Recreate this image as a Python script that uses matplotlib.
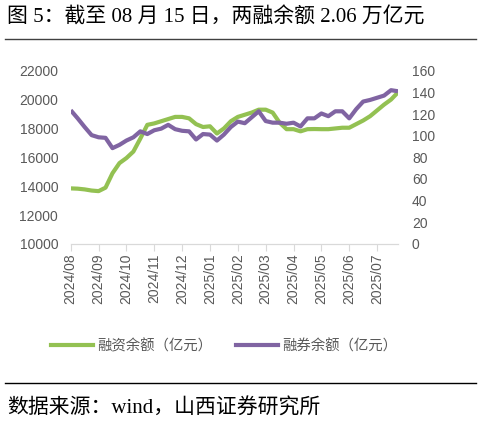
import matplotlib
matplotlib.use('Agg')
import matplotlib.pyplot as plt
from matplotlib.lines import Line2D
import numpy as np

# tick labels for the category axis (one label every 4 points)
month_labels = ['2024/08', '2024/09', '2024/10', '2024/11', '2024/12', '2025/01',
                '2025/02', '2025/03', '2025/04', '2025/05', '2025/06', '2025/07']

# margin financing balance (left axis, 亿元)
financing = [13850, 13830, 13780, 13700, 13660, 13900, 14900, 15600, 15950, 16400,
             17300, 18250, 18350, 18500, 18650, 18800, 18800, 18700, 18300, 18100,
             18150, 17650, 18000, 18500, 18800, 18950, 19100, 19300, 19300, 19100,
             18400, 17950, 17950, 17800, 17950, 17960, 17950, 17950, 18000, 18050,
             18050, 18300, 18550, 18850, 19250, 19650, 20000, 20500]

# securities lending balance (right axis, 亿元)
lending = [123.5, 116, 108, 100.5, 98.5, 98, 88.5, 91.5, 95.5, 98.5,
           104, 101.5, 105, 106.5, 110, 106, 104.5, 104, 96.5, 101.5,
           101, 95.5, 101, 108, 113, 111.5, 117, 122.5, 113.5, 112,
           112, 111, 112, 108.5, 116, 116, 120.5, 118, 122.5, 122.5,
           116, 124.5, 131.5, 133, 135, 137, 142, 141]

green = '#93c152'
purple = '#8064a2'
gray = '#595959'
cn_font = ['Liberation Serif', 'Noto Sans CJK SC']
sans_font = ['Liberation Sans', 'Noto Sans CJK SC']

fig = plt.figure(figsize=(4.82, 4.23), dpi=100)
ax = fig.add_axes([0.1467, 0.4232, 0.679, 0.4097])
ax2 = ax.twinx()

x = np.arange(len(financing))
ax.plot(x, financing, color=green, linewidth=3, solid_capstyle='butt')
ax2.plot(x, lending, color=purple, linewidth=3, solid_capstyle='butt')

ax.set_xlim(0, len(financing) - 1)
ax.set_ylim(10000, 22000)
ax2.set_ylim(0, 160)
ax.set_yticks(np.arange(10000, 22001, 2000))
ax2.set_yticks(np.arange(0, 161, 20))
ax.set_xticks(np.arange(0, 4 * len(month_labels), 4))
ax.set_xticklabels(month_labels, rotation=90)

for a in (ax, ax2):
    for s in ('top', 'left', 'right'):
        a.spines[s].set_visible(False)
    a.spines['bottom'].set_color('#d9d9d9')
    a.tick_params(axis='y', length=0, labelcolor=gray, labelsize=10)
ax.tick_params(axis='y', pad=9)
ax2.tick_params(axis='y', pad=10)
ax.tick_params(axis='x', length=5, color='#d9d9d9', labelcolor=gray, labelsize=10, pad=2)
for lab in ax.get_xticklabels() + ax.get_yticklabels() + ax2.get_yticklabels():
    lab.set_family(sans_font)

# legend
handles = [Line2D([], [], color=green, linewidth=3),
           Line2D([], [], color=purple, linewidth=3)]
leg = fig.legend(handles, ['融资余额（亿元）', '融券余额（亿元）'], loc='center',
                 bbox_to_anchor=(0.465, 0.182), ncol=2, frameon=False,
                 handlelength=2.9, handletextpad=0.35, columnspacing=1.6,
                 prop={'family': 'Noto Sans CJK SC', 'size': 10.4})
for t in leg.get_texts():
    t.set_color(gray)

# title and source
fig.text(0.015, 0.958, '图 5：截至 08 月 15 日，两融余额 2.06 万亿元', family=cn_font,
         fontsize=15, va='center', ha='left', color='black')
fig.add_artist(Line2D([0.01, 0.988], [0.907, 0.907], color='#404040', linewidth=1))
fig.add_artist(Line2D([0.01, 0.988], [0.094, 0.094], color='black', linewidth=1))
fig.text(0.015, 0.035, '数据来源：wind，山西证券研究所', family=cn_font,
         fontsize=15, va='center', ha='left', color='black')

plt.savefig('out.png', dpi=100)
